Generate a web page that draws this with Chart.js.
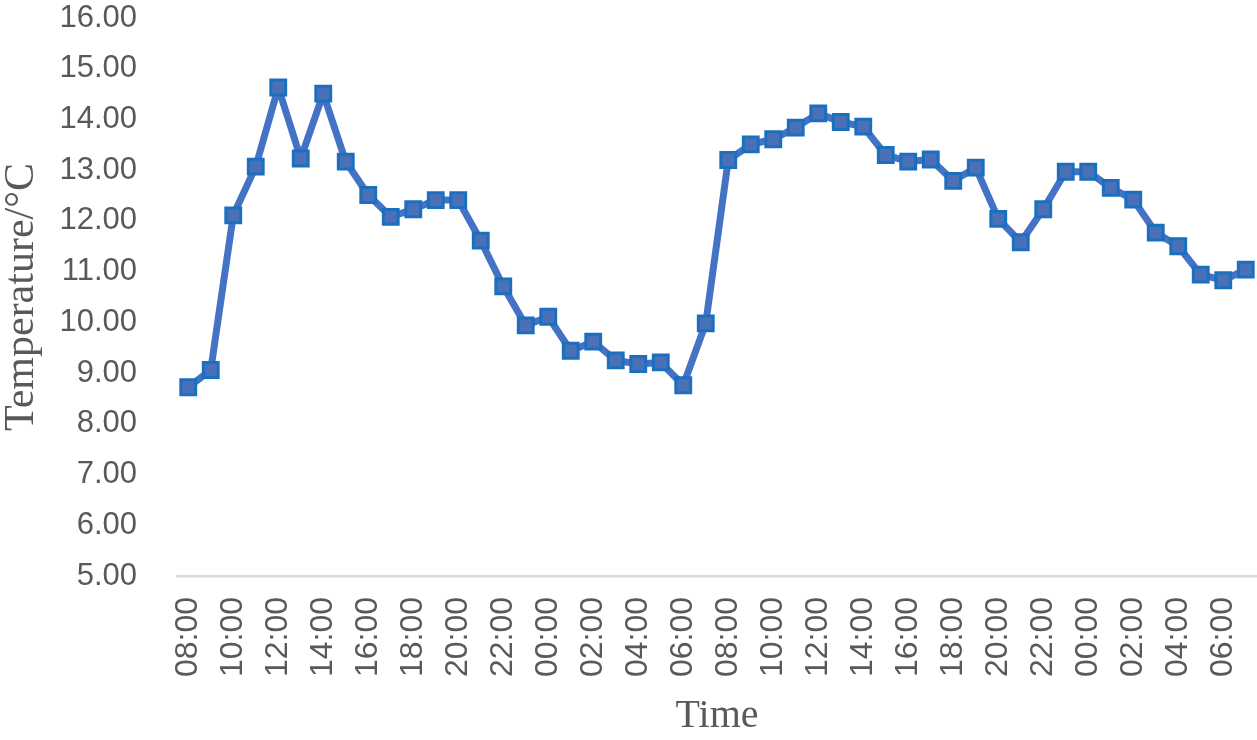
<!DOCTYPE html>
<html>
<head>
<meta charset="utf-8">
<script src="https://cdn.jsdelivr.net/npm/chart.js@4"></script>
<style>
html,body{margin:0;padding:0;background:#fff;overflow:hidden;}
#wrap{width:1257px;height:740px;position:relative;}
canvas{display:block;}
</style>
</head>
<body>
<div id="wrap"><canvas id="c"></canvas></div>
<script>
const hours = ["08:00","09:00","10:00","11:00","12:00","13:00","14:00","15:00","16:00","17:00","18:00","19:00","20:00","21:00","22:00","23:00","00:00","01:00","02:00","03:00","04:00","05:00","06:00","07:00","08:00","09:00","10:00","11:00","12:00","13:00","14:00","15:00","16:00","17:00","18:00","19:00","20:00","21:00","22:00","23:00","00:00","01:00","02:00","03:00","04:00","05:00","06:00","07:00"];
const temperature = [8.72,9.06,12.11,13.07,14.63,13.23,14.51,13.17,12.51,12.08,12.23,12.41,12.41,11.61,10.71,9.94,10.11,9.44,9.62,9.25,9.18,9.21,8.76,9.98,13.20,13.51,13.61,13.84,14.12,13.95,13.86,13.30,13.17,13.21,12.79,13.05,12.04,11.58,12.23,12.97,12.97,12.65,12.42,11.77,11.50,10.94,10.83,11.04];
const yMin = 5, yMax = 16, yStep = 1;
const xTitle = "Time";
const yTitle = "Temperature/°C";

function zeroPad(s) { s.paddingLeft = 0; s.paddingRight = 0; s.paddingTop = 0; s.paddingBottom = 0; }

new Chart(document.getElementById('c'), {
  type: 'line',
  data: {
    labels: hours,
    datasets: [{
      data: temperature,
      borderColor: '#4472C4',
      borderWidth: 7,
      borderJoinStyle: 'round',
      backgroundColor: '#4472C4',
      pointStyle: 'rect',
      pointRadius: 10.5,
      pointBorderWidth: 3,
      pointBorderColor: '#1A6FBF',
      pointBackgroundColor: '#4A70B8',
      tension: 0,
      fill: false,
      clip: false
    }]
  },
  options: {
    responsive: true,
    maintainAspectRatio: false,
    animation: false,
    layout: { autoPadding: false, padding: { top: 18, right: 0, bottom: 0, left: 0 } },
    plugins: { legend: { display: false }, tooltip: { enabled: false } },
    scales: {
      x: {
        offset: true,
        afterFit: function(s) { zeroPad(s); s.height = 164; },
        grid: { display: false, drawTicks: false },
        border: { display: true, color: '#D9D9D9', width: 2.5 },
        ticks: {
          autoSkip: false,
          maxRotation: 90, minRotation: 90,
          padding: 21,
          color: '#595959',
          font: { family: '"Liberation Sans", Arial, sans-serif', size: 32 },
          callback: function(v, i) { return i % 2 === 0 ? hours[i] : ''; }
        },
        title: {
          display: true, text: xTitle, color: '#595959',
          font: { family: '"Liberation Serif", "Times New Roman", serif', size: 40 },
          padding: { top: 0, bottom: 0 }
        }
      },
      y: {
        min: yMin, max: yMax,
        afterFit: function(s) { zeroPad(s); s.width = 177; },
        grid: { display: false, drawTicks: false },
        border: { display: false },
        ticks: {
          stepSize: yStep,
          padding: 40,
          color: '#595959',
          font: { family: '"Liberation Sans", Arial, sans-serif', size: 31 },
          callback: function(v) { return Number(v).toFixed(2); }
        },
        title: {
          display: true, text: yTitle, color: '#595959',
          font: { family: '"Liberation Serif", "Times New Roman", serif', size: 42 },
          padding: { top: -3, bottom: 0 }
        }
      }
    }
  }
});
</script>
</body>
</html>
